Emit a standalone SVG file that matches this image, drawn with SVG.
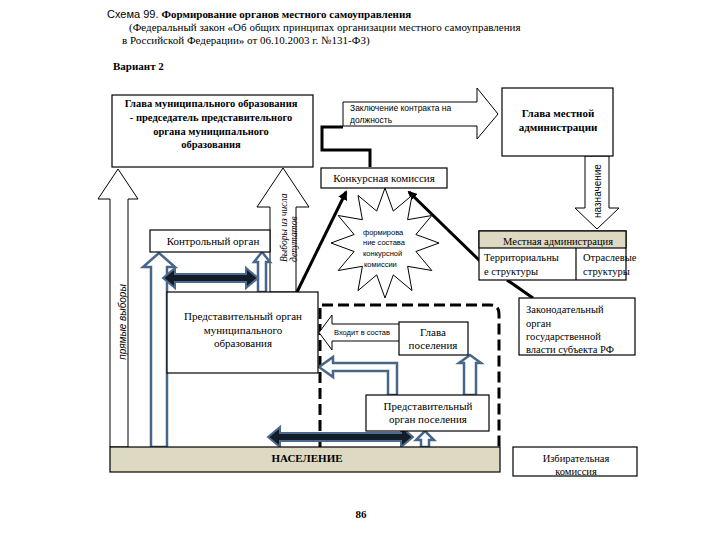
<svg xmlns="http://www.w3.org/2000/svg" width="720" height="540" viewBox="0 0 720 540">
<defs>
<marker id="ah" viewBox="0 0 10 10" refX="8" refY="5" markerWidth="3.2" markerHeight="3.2" orient="auto" markerUnits="strokeWidth"><path d="M0,0 L10,5 L0,10 z" fill="#000"/></marker>
</defs>
<style>
.box{fill:#fff;stroke:#000;stroke-width:1.2}
.tan{fill:#ddd9c3;stroke:#000;stroke-width:1.2}
text{fill:#000}
.b{font-weight:bold}
.hollow{fill:#fff;stroke:#000;stroke-width:1}
.blue{fill:#fff;stroke:#48668a;stroke-width:2.5}
.dbl{fill:#141c2a;stroke:#4c6c8e;stroke-width:2}
.thick{fill:none;stroke:#000;stroke-width:3}
.dash{fill:none;stroke:#000;stroke-width:3;stroke-dasharray:11 5}
</style>
<rect width="720" height="540" fill="#fff"/>

<g id="title" font-family="Liberation Serif, Times New Roman, serif" font-size="11">
<text x="107" y="18"><tspan font-family="Liberation Sans, Arial, sans-serif">Схема 99. </tspan><tspan font-weight="bold">Формирование органов местного самоуправления</tspan></text>
<text x="129" y="31">(Федеральный закон «Об общих принципах организации местного самоуправления</text>
<text x="122" y="44">в Российской Федерации» от 06.10.2003 г. №131-ФЗ)</text>
<text class="b" x="113" y="70">Вариант 2</text>
</g>

<g id="settlement-zone">
<path class="dash" d="M320,447 L320,305 L490,305 Q499,305 499,314 L499,447"/>
</g>

<g id="connectors">
<polygon class="hollow" points="110,447 110,199 98,199 118,169 138,199 128,199 128,447"/>
<text font-family="Liberation Sans, Arial, sans-serif" font-size="10" font-style="italic" text-anchor="middle" transform="translate(126,322) rotate(-90)">прямые выборы</text>
<polygon class="hollow" points="270,292 270,207 257,207 283,168 309,207 296,207 296,292"/>
<text font-family="Liberation Serif, Times New Roman, serif" font-size="9.5" font-style="italic" transform="translate(287,262) rotate(-90)">Выборы из числа</text>
<text font-family="Liberation Serif, Times New Roman, serif" font-size="9.5" font-style="italic" transform="translate(297,262) rotate(-90)">депутатов</text>
<polygon class="hollow" points="343,102 477,102 477,88 498,114 477,139 477,126 343,126"/>
<text font-family="Liberation Sans, Arial, sans-serif" font-size="8.5" x="350" y="111">Заключение контракта на</text>
<text font-family="Liberation Sans, Arial, sans-serif" font-size="8.5" x="350" y="123">должность</text>
<polygon class="hollow" points="585,156 609,156 609,208 619,208 597,229 575,208 585,208"/>
<text font-family="Liberation Sans, Arial, sans-serif" font-size="10" text-anchor="middle" transform="translate(601,191) rotate(-90)">назначение</text>
<polygon class="hollow" points="400,324 332,324 332,315 319,332.5 332,350 332,341 400,341"/>
<text font-family="Liberation Sans, Arial, sans-serif" font-size="7.5" x="334" y="335">Входит в состав</text>
<polyline class="thick" points="343,127 322,127 322,150 370,150 370,167"/>
<line class="thick" x1="297" y1="292" x2="346" y2="192" marker-end="url(#ah)"/>
<line class="thick" x1="480" y1="261" x2="409" y2="192" marker-end="url(#ah)"/>
<line class="thick" x1="507" y1="280" x2="533" y2="298"/>
<polygon class="blue" points="151,447 151,267 143,267 159,253 175,267 167,267 167,447"/>
<polygon class="blue" points="258,292 258,262 254,262 262,252 270,262 266,262 266,292"/>
<polygon class="dbl" points="163,278 175,268 175,274 246,274 246,268 258,278 246,288 246,282 175,282 175,288"/>
<polygon class="dbl" points="268,437 280,427 280,433 401,433 401,427 413,437 401,447 401,441 280,441 280,447"/>
<polygon class="blue" points="388,395 388,371 333,371 333,377 319,367 333,357 333,363 397,363 397,395"/>
<polygon class="blue" points="464,395 464,363 459,363 470,355 481,363 476,363 476,395"/>
<polygon class="blue" points="421,447 421,440 416,440 425,431 434,440 429,440 429,447"/>
</g>

<g id="glava-mo" font-family="Liberation Serif, Times New Roman, serif" font-size="10.5" font-weight="bold" text-anchor="middle">
<rect class="box" x="112" y="95" width="201" height="72"/>
<text x="211" y="107">Глава муниципального образования</text>
<text x="211" y="121">- председатель представительного</text>
<text x="211" y="135">органа муниципального</text>
<text x="211" y="148">образования</text>
</g>

<g id="glava-admin" font-family="Liberation Serif, Times New Roman, serif" font-size="11" font-weight="bold" text-anchor="middle">
<rect class="box" x="502" y="88" width="111" height="68"/>
<text x="558" y="117">Глава местной</text>
<text x="558" y="131">администрации</text>
</g>

<g id="konkurs" font-family="Liberation Serif, Times New Roman, serif" font-size="11" text-anchor="middle">
<rect class="box" x="321" y="168" width="126" height="20"/>
<text x="384" y="182">Конкурсная комиссия</text>
</g>

<g id="star" font-family="Liberation Sans, Arial, sans-serif" font-size="7.5">
<polygon fill="#fff" stroke="#000" stroke-width="1" points="385,188 393.3,211.1 412,195.4 407.6,219.7 431.8,215.5 415.9,234.5 439,243 415.9,251.5 431.8,270.5 407.6,266.3 412,290.6 393.3,274.9 385,298 376.7,274.9 358,290.6 362.4,266.3 338.2,270.5 354.1,251.5 331,243 354.1,234.5 338.2,215.5 362.4,219.7 358,195.4 376.7,211.1"/>
<text x="363" y="235">формирова</text>
<text x="363" y="245">ние состава</text>
<text x="363" y="256">конкурсной</text>
<text x="364" y="267">комиссии</text>
</g>

<g id="kontrol" font-family="Liberation Serif, Times New Roman, serif" font-size="11" text-anchor="middle">
<rect class="box" x="150" y="230" width="120" height="22"/>
<text x="213" y="245">Контрольный орган</text>
</g>

<g id="mestnaya-admin" font-family="Liberation Serif, Times New Roman, serif" font-size="10.5">
<rect class="box" x="479" y="231" width="147" height="49"/>
<rect class="tan" x="479" y="231" width="147" height="17"/>
<line x1="576" y1="248" x2="576" y2="280" stroke="#000" stroke-width="1.2"/>
<text text-anchor="middle" x="558" y="245">Местная администрация</text>
<text x="484" y="261">Территориальны</text>
<text x="484" y="275">е структуры</text>
<text x="583" y="261">Отраслевые</text>
<text x="583" y="275">структуры</text>
</g>

<g id="zakonodat" font-family="Liberation Serif, Times New Roman, serif" font-size="10.5">
<rect class="box" x="519" y="298" width="116" height="57"/>
<text x="526" y="313">Законодательный</text>
<text x="526" y="327">орган</text>
<text x="526" y="340">государственной</text>
<text x="526" y="353">власти субъекта РФ</text>
</g>

<g id="pred-mo" font-family="Liberation Serif, Times New Roman, serif" font-size="11" text-anchor="middle">
<rect class="box" x="167" y="292" width="151" height="81"/>
<text x="243" y="320">Представительный орган</text>
<text x="243" y="334">муниципального</text>
<text x="243" y="347">образования</text>
</g>

<g id="glava-pos" font-family="Liberation Serif, Times New Roman, serif" font-size="11" text-anchor="middle">
<rect class="box" x="399" y="322" width="69" height="33"/>
<text x="433" y="336">Глава</text>
<text x="433" y="349">поселения</text>
</g>

<g id="pred-pos" font-family="Liberation Serif, Times New Roman, serif" font-size="11" text-anchor="middle">
<rect class="box" x="366" y="395" width="123" height="36"/>
<text x="428" y="410">Представительный</text>
<text x="428" y="423">орган поселения</text>
</g>

<g id="naselenie" font-family="Liberation Serif, Times New Roman, serif" font-size="11" font-weight="bold" text-anchor="middle">
<rect class="tan" x="110" y="447" width="390" height="25"/>
<text x="307" y="462">НАСЕЛЕНИЕ</text>
</g>

<g id="izbirkom" font-family="Liberation Serif, Times New Roman, serif" font-size="10.5" text-anchor="middle">
<rect class="box" x="513" y="447" width="124" height="29"/>
<text x="576" y="462">Избирательная</text>
<text x="576" y="475">комиссия</text>
</g>

<text font-family="Liberation Serif, Times New Roman, serif" font-size="11" font-weight="bold" text-anchor="middle" x="361" y="518">86</text>
</svg>
